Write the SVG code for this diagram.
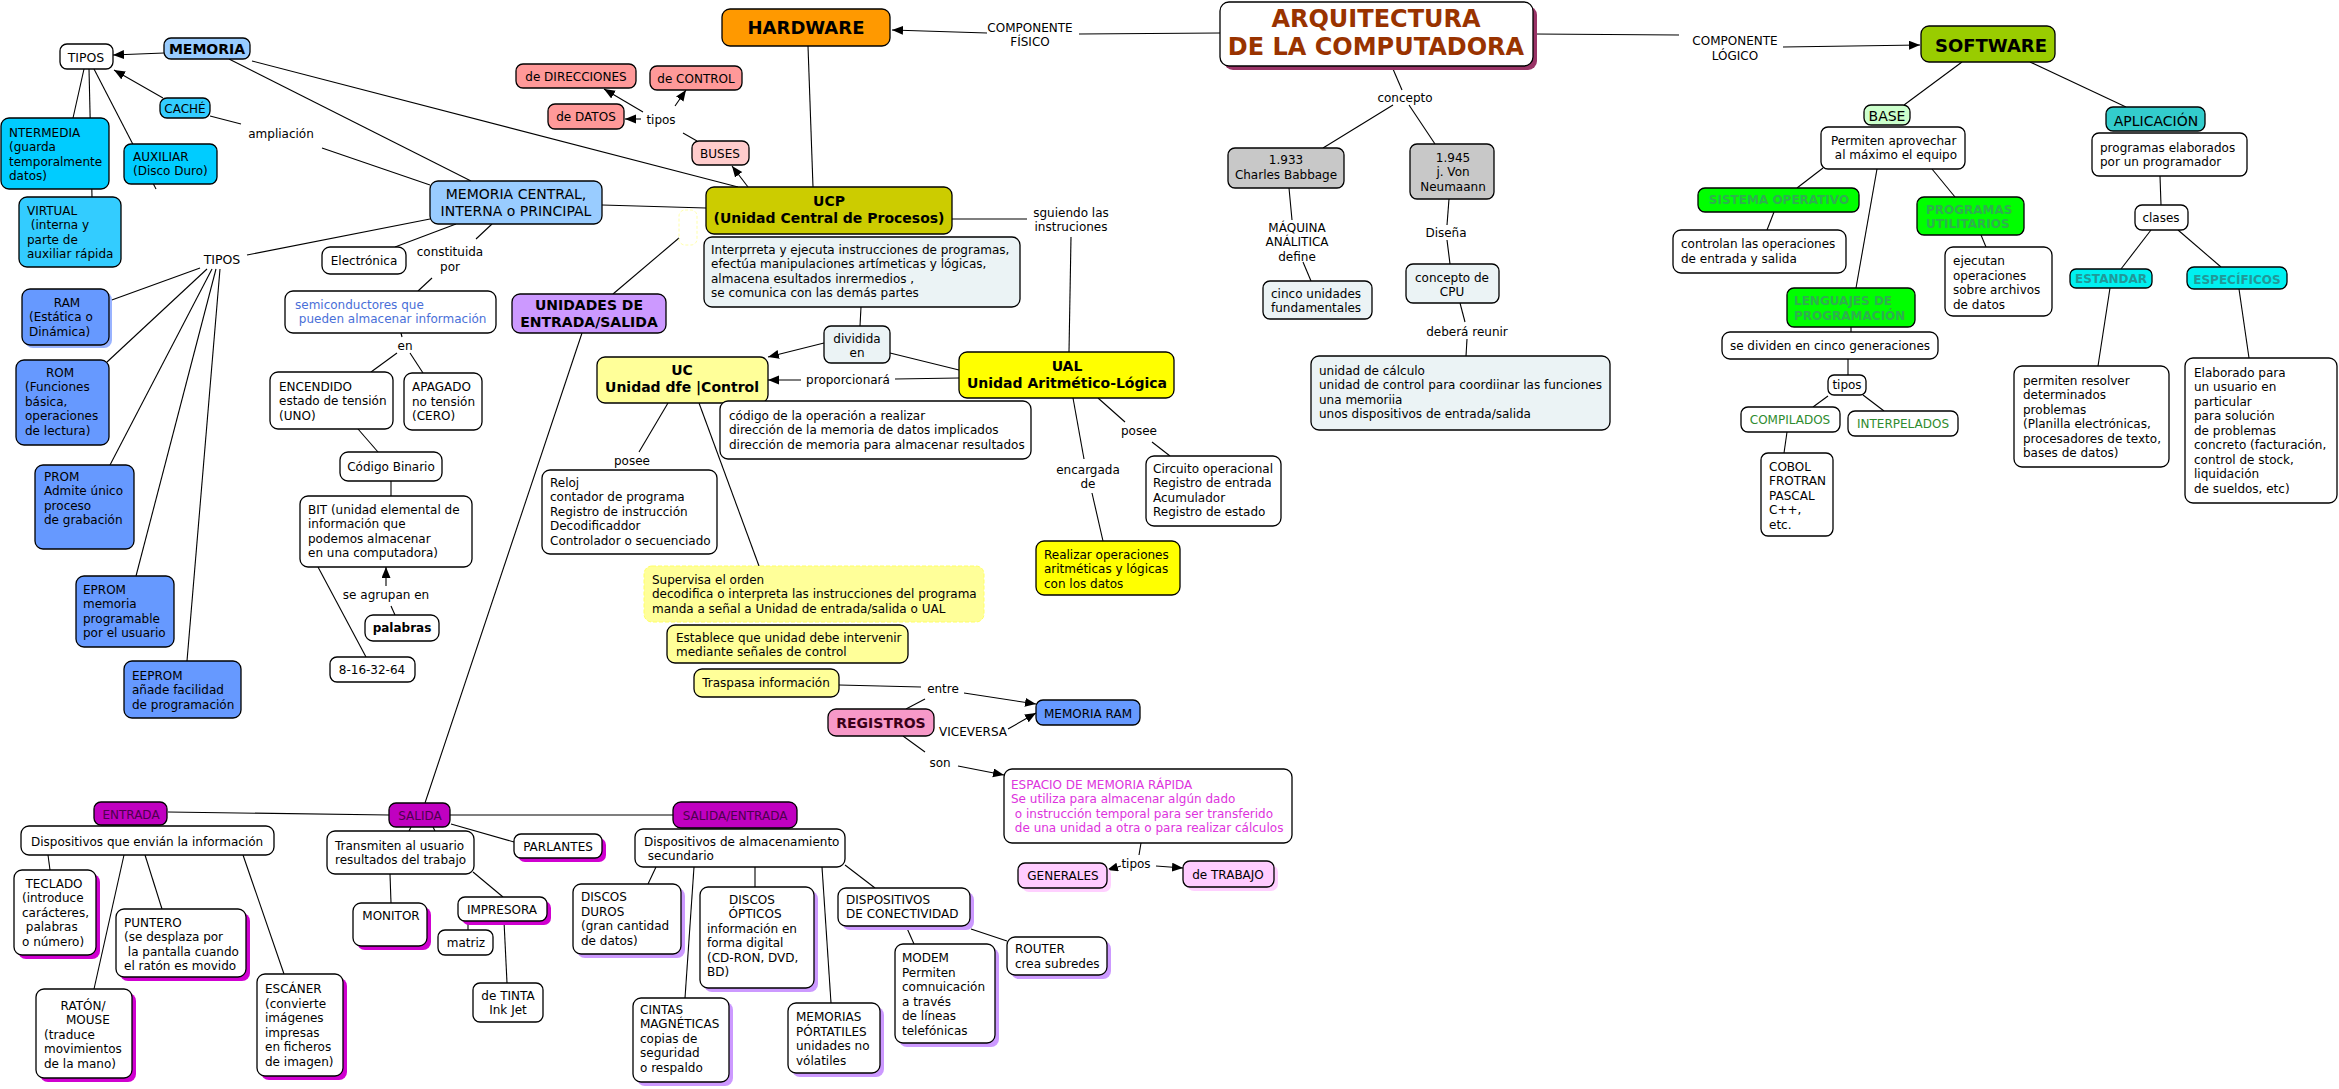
<svg xmlns="http://www.w3.org/2000/svg" width="2339" height="1089" viewBox="0 0 2339 1089">
<style>
.b{stroke:#000;stroke-width:1.3}
.t{font-family:"DejaVu Sans",Verdana,"Liberation Sans",sans-serif;font-size:12px;fill:#000}
.m{text-anchor:middle}
.bd{font-weight:bold}
.f14{font-size:14px}
.c line{stroke:#000;stroke-width:1.1;fill:none}
.a{marker-end:url(#ah)}
.w{fill:#fff}
.g{fill:#EBF3F5}
.shm{fill:#D000D0}
.shl{fill:#CC99FF}
.shp{fill:#FFD0FF}
.shb{fill:#99B3FF}
.mag{fill:#C000C0}
.mt{fill:#4d004d}
.grn{fill:#00FF00}
.gt{fill:#2FAF4F;font-weight:bold}
.cy{fill:#00F0F0}
.ct{fill:#209999;font-weight:bold}
.blu{fill:#6699FF}
.lb{fill:#99CCFF}
.sal{fill:#FF9999}
.ly{fill:#FFFF99}
</style>
<defs>
<marker id="ah" markerUnits="userSpaceOnUse" markerWidth="12" markerHeight="10" refX="11" refY="4.5" orient="auto">
<path d="M0,0 L11,4.5 L0,9 z" fill="#000"/>
</marker>
</defs>
<rect width="2339" height="1089" fill="#fff"/>

<g id="connectors" class="c">
<line x1="1220" y1="33" x2="1079" y2="34"/>
<line class="a" x1="987" y1="33" x2="892" y2="30"/>
<line x1="1534" y1="34" x2="1679" y2="35"/>
<line class="a" x1="1783" y1="47" x2="1920" y2="45"/>
<line x1="1393" y1="69" x2="1402" y2="90"/>
<line x1="1393" y1="105" x2="1323" y2="148"/>
<line x1="1409" y1="105" x2="1435" y2="144"/>
<line x1="1289" y1="188" x2="1292" y2="220"/>
<line x1="1303" y1="262" x2="1311" y2="281"/>
<line x1="1449" y1="199" x2="1447" y2="225"/>
<line x1="1447" y1="240" x2="1450" y2="264"/>
<line x1="1460" y1="303" x2="1465" y2="322"/>
<line x1="1467" y1="339" x2="1466" y2="356"/>
<line x1="1962" y1="62" x2="1904" y2="105"/>
<line x1="2030" y1="62" x2="2126" y2="107"/>
<line x1="1823" y1="168" x2="1797" y2="188"/>
<line x1="1877" y1="169" x2="1856" y2="288"/>
<line x1="1932" y1="169" x2="1955" y2="197"/>
<line x1="1774" y1="212" x2="1767" y2="230"/>
<line x1="1981" y1="235" x2="1986" y2="247"/>
<line x1="1851" y1="327" x2="1851" y2="332"/>
<line x1="1848" y1="359" x2="1848" y2="375"/>
<line x1="1828" y1="396" x2="1813" y2="407"/>
<line x1="1863" y1="395" x2="1884" y2="411"/>
<line x1="1787" y1="432" x2="1784" y2="453"/>
<line x1="2160" y1="176" x2="2161" y2="205"/>
<line x1="2151" y1="230" x2="2121" y2="269"/>
<line x1="2178" y1="230" x2="2221" y2="267"/>
<line x1="2110" y1="288" x2="2098" y2="366"/>
<line x1="2239" y1="289" x2="2249" y2="358"/>
<line x1="808" y1="46" x2="813" y2="187"/>
<line x1="252" y1="61" x2="738" y2="187"/>
<line x1="229" y1="59" x2="471" y2="181"/>
<line x1="602" y1="205" x2="706" y2="208"/>
<line class="a" x1="748" y1="187" x2="732" y2="166"/>
<line x1="697" y1="141" x2="683" y2="133"/>
<line class="a" x1="643" y1="112" x2="604" y2="89"/>
<line class="a" x1="641" y1="119" x2="625" y2="119"/>
<line class="a" x1="675" y1="106" x2="686" y2="90"/>
<line x1="952" y1="219" x2="1027" y2="219"/>
<line x1="1071" y1="237" x2="1069" y2="352"/>
<line x1="861" y1="307" x2="860" y2="326"/>
<line class="a" x1="824" y1="343" x2="768" y2="357"/>
<line x1="890" y1="353" x2="959" y2="370"/>
<line x1="959" y1="378" x2="895" y2="379"/>
<line class="a" x1="801" y1="380" x2="768" y2="380"/>
<line x1="668" y1="403" x2="639" y2="452"/>
<line x1="699" y1="403" x2="759" y2="566"/>
<line x1="1073" y1="398" x2="1084" y2="459"/>
<line x1="1092" y1="493" x2="1103" y2="541"/>
<line x1="1098" y1="398" x2="1125" y2="422"/>
<line x1="1152" y1="442" x2="1170" y2="456"/>
<line x1="839" y1="685" x2="921" y2="687"/>
<line class="a" x1="964" y1="693" x2="1036" y2="704"/>
<line x1="925" y1="699" x2="906" y2="709"/>
<line class="a" x1="1008" y1="729" x2="1036" y2="713"/>
<line x1="903" y1="736" x2="925" y2="752"/>
<line class="a" x1="958" y1="766" x2="1004" y2="775"/>
<line x1="1141" y1="843" x2="1139" y2="855"/>
<line class="a" x1="1121" y1="866" x2="1107" y2="870"/>
<line class="a" x1="1156" y1="866" x2="1183" y2="868"/>
<line class="a" x1="164" y1="53" x2="113" y2="55"/>
<line class="a" x1="163" y1="98" x2="114" y2="70"/>
<line x1="210" y1="116" x2="241" y2="124"/>
<line x1="322" y1="148" x2="430" y2="185"/>
<line x1="84" y1="69" x2="73" y2="118"/>
<line x1="89" y1="69" x2="92" y2="197"/>
<line x1="94" y1="69" x2="156" y2="189"/>
<line x1="430" y1="219" x2="247" y2="255"/>
<line x1="200" y1="268" x2="109" y2="301"/>
<line x1="207" y1="269" x2="107" y2="362"/>
<line x1="212" y1="269" x2="110" y2="465"/>
<line x1="216" y1="269" x2="136" y2="576"/>
<line x1="220" y1="269" x2="187" y2="661"/>
<line x1="456" y1="224" x2="395" y2="247"/>
<line x1="492" y1="224" x2="476" y2="239"/>
<line x1="432" y1="278" x2="418" y2="291"/>
<line x1="401" y1="333" x2="402" y2="337"/>
<line x1="397" y1="353" x2="371" y2="372"/>
<line x1="410" y1="353" x2="423" y2="373"/>
<line x1="358" y1="429" x2="378" y2="452"/>
<line x1="391" y1="481" x2="391" y2="496"/>
<line class="a" x1="386" y1="586" x2="386" y2="567"/>
<line x1="391" y1="606" x2="395" y2="615"/>
<line x1="318" y1="567" x2="366" y2="657"/>
<line x1="582" y1="333" x2="425" y2="803"/>
<line x1="613" y1="294" x2="679" y2="238"/>
<line x1="168" y1="812" x2="389" y2="815"/>
<line x1="450" y1="815" x2="673" y2="815"/>
<line x1="451" y1="824" x2="514" y2="842"/>
<line x1="48" y1="855" x2="50" y2="870"/>
<line x1="124" y1="855" x2="94" y2="989"/>
<line x1="145" y1="855" x2="162" y2="909"/>
<line x1="243" y1="855" x2="284" y2="974"/>
<line x1="411" y1="827" x2="409" y2="831"/>
<line x1="433" y1="827" x2="435" y2="831"/>
<line x1="390" y1="874" x2="391" y2="903"/>
<line x1="473" y1="872" x2="503" y2="897"/>
<line x1="468" y1="921" x2="468" y2="930"/>
<line x1="504" y1="921" x2="507" y2="983"/>
<line x1="656" y1="867" x2="648" y2="884"/>
<line x1="694" y1="867" x2="685" y2="998"/>
<line x1="755" y1="867" x2="755" y2="887"/>
<line x1="822" y1="867" x2="831" y2="1003"/>
<line x1="845" y1="865" x2="875" y2="888"/>
<line x1="906" y1="926" x2="914" y2="944"/>
<line x1="971" y1="929" x2="1007" y2="941"/>
</g>

<g id="n-arq"><rect x="1224" y="6" width="313" height="64" rx="9" fill="#993366"/><rect class="b w" x="1220" y="2" width="313" height="64" rx="9"/><text class="t m bd" style="font-size:24px;fill:#993300"><tspan x="1376" y="27">ARQUITECTURA</tspan><tspan x="1376" y="55">DE LA COMPUTADORA</tspan></text></g>
<g id="n-hardware"><rect class="b" x="722" y="9" width="168" height="37" rx="8" fill="#FF9900"/><text class="t m bd" style="font-size:18px" x="806" y="34">HARDWARE</text></g>
<g id="l-fisico"><text class="t m"><tspan x="1030" y="32">COMPONENTE</tspan><tspan x="1030" y="46">FÍSICO</tspan></text></g>
<g id="l-logico"><text class="t m"><tspan x="1735" y="45">COMPONENTE</tspan><tspan x="1735" y="60">LÓGICO</tspan></text></g>
<g id="n-software"><rect class="b" x="1921" y="26" width="134" height="36" rx="8" fill="#99CC00"/><text class="t m bd" style="font-size:18px" x="1991" y="52">SOFTWARE</text></g>
<g id="n-base"><rect class="b" x="1864" y="105" width="46" height="20" rx="7" fill="#CCFFCC"/><text class="t m f14" x="1887" y="121">BASE</text></g>
<g id="n-permiten"><rect class="b w" x="1821" y="127" width="144" height="42" rx="7"/><text class="t"><tspan x="1831" y="144.5">Permiten aprovechar</tspan><tspan x="1831" y="159"> al máximo el equipo</tspan></text></g>
<g id="n-aplicacion"><rect class="b" x="2106" y="107" width="99" height="24" rx="7" fill="#33CCCC"/><text class="t m f14" x="2156" y="126">APLICACIÓN</text></g>
<g id="n-progelab"><rect class="b w" x="2092" y="133" width="155" height="43" rx="7"/><text class="t"><tspan x="2100" y="151.5">programas elaborados</tspan><tspan x="2100" y="166">por un programador</tspan></text></g>
<g id="n-clases"><rect class="b w" x="2135" y="205" width="53" height="25" rx="7"/><text class="t m" x="2161" y="222">clases</text></g>
<g id="n-estandar"><rect class="b cy" x="2070" y="269" width="82" height="19" rx="6"/><text class="t m ct" x="2111" y="282.5">ESTANDAR</text></g>
<g id="n-especificos"><rect class="b cy" x="2187" y="267" width="100" height="22" rx="7"/><text class="t m ct" x="2237" y="284">ESPECÍFICOS</text></g>
<g id="n-resolver"><rect class="b w" x="2014" y="366" width="155" height="101" rx="8"/><text class="t"><tspan x="2023" y="384.5">permiten resolver</tspan><tspan x="2023" y="399">determinados</tspan><tspan x="2023" y="413.5">problemas</tspan><tspan x="2023" y="428">(Planilla electrónicas,</tspan><tspan x="2023" y="442.5">procesadores de texto,</tspan><tspan x="2023" y="457">bases de datos)</tspan></text></g>
<g id="n-elaborado"><rect class="b w" x="2185" y="358" width="152" height="145" rx="8"/><text class="t"><tspan x="2194" y="376.5">Elaborado para</tspan><tspan x="2194" y="391">un usuario en</tspan><tspan x="2194" y="405.5">particular</tspan><tspan x="2194" y="420">para solución</tspan><tspan x="2194" y="434.5">de problemas</tspan><tspan x="2194" y="449">concreto (facturación,</tspan><tspan x="2194" y="463.5">control de stock,</tspan><tspan x="2194" y="478">liquidación</tspan><tspan x="2194" y="492.5">de sueldos, etc)</tspan></text></g>
<g id="n-so"><rect class="b grn" x="1698" y="188" width="161" height="24" rx="7"/><text class="t m gt" x="1779" y="204">SISTEMA OPERATIVO</text></g>
<g id="n-controlan"><rect class="b w" x="1673" y="230" width="173" height="43" rx="8"/><text class="t"><tspan x="1681" y="248">controlan las operaciones</tspan><tspan x="1681" y="262.5">de entrada y salida</tspan></text></g>
<g id="n-utilitarios"><rect class="b grn" x="1917" y="197" width="107" height="38" rx="7"/><text class="t gt"><tspan x="1926" y="213.5">PROGRAMAS</tspan><tspan x="1926" y="227.5">UTILITARIOS</tspan></text></g>
<g id="n-ejecutan"><rect class="b w" x="1945" y="247" width="107" height="69" rx="8"/><text class="t"><tspan x="1953" y="265">ejecutan</tspan><tspan x="1953" y="279.5">operaciones</tspan><tspan x="1953" y="294">sobre archivos</tspan><tspan x="1953" y="308.5">de datos</tspan></text></g>
<g id="n-lenguajes"><rect class="b grn" x="1787" y="288" width="128" height="39" rx="7"/><text class="t gt"><tspan x="1794" y="305">LENGUAJES DE</tspan><tspan x="1794" y="319.5">PROGRAMACIÓN</tspan></text></g>
<g id="n-dividen"><rect class="b w" x="1722" y="332" width="216" height="27" rx="8"/><text class="t m" x="1830" y="349.5">se dividen en cinco generaciones</text></g>
<g id="n-tiposleng"><rect class="b w" x="1828" y="375" width="38" height="20" rx="6"/><text class="t m" x="1847" y="389">tipos</text></g>
<g id="n-compilados"><rect class="b w" x="1741" y="407" width="99" height="25" rx="7"/><text class="t m" style="fill:#2E8B2E" x="1790" y="423.5">COMPILADOS</text></g>
<g id="n-interpelados"><rect class="b w" x="1848" y="411" width="110" height="25" rx="7"/><text class="t m" style="fill:#2E8B2E" x="1903" y="427.5">INTERPELADOS</text></g>
<g id="n-cobol"><rect class="b w" x="1761" y="453" width="72" height="83" rx="7"/><text class="t"><tspan x="1769" y="470.5">COBOL</tspan><tspan x="1769" y="485">FROTRAN</tspan><tspan x="1769" y="499.5">PASCAL</tspan><tspan x="1769" y="514">C++,</tspan><tspan x="1769" y="528.5">etc.</tspan></text></g>
<g id="l-concepto"><text class="t m" x="1405" y="101.5">concepto</text></g>
<g id="n-1933"><rect class="b" x="1228" y="148" width="116" height="40" rx="7" fill="#C8C8C8"/><text class="t m"><tspan x="1286" y="164">1.933</tspan><tspan x="1286" y="178.5">Charles Babbage</tspan></text></g>
<g id="n-1945"><rect class="b" x="1410" y="144" width="84" height="55" rx="7" fill="#C8C8C8"/><text class="t m"><tspan x="1453" y="161.5">1.945</tspan><tspan x="1453" y="176">j. Von</tspan><tspan x="1453" y="190.5">Neumaann</tspan></text></g>
<g id="l-maquina"><text class="t m"><tspan x="1297" y="231.5">MÁQUINA</tspan><tspan x="1297" y="246">ANÁLITICA</tspan><tspan x="1297" y="260.5">define</tspan></text></g>
<g id="n-cinco"><rect class="b g" x="1263" y="281" width="109" height="38" rx="7"/><text class="t"><tspan x="1271" y="297.5">cinco unidades</tspan><tspan x="1271" y="312">fundamentales</tspan></text></g>
<g id="l-disena"><text class="t m" x="1446" y="236.5">Diseña</text></g>
<g id="n-cpu"><rect class="b g" x="1406" y="264" width="93" height="39" rx="7"/><text class="t m"><tspan x="1452" y="281.5">concepto de</tspan><tspan x="1452" y="296">CPU</tspan></text></g>
<g id="l-reunir"><text class="t m" x="1467" y="335.5">deberá reunir</text></g>
<g id="n-calculo"><rect class="b g" x="1311" y="356" width="299" height="74" rx="8"/><text class="t"><tspan x="1319" y="374.5">unidad de cálculo</tspan><tspan x="1319" y="389">unidad de control para coordiinar las funciones</tspan><tspan x="1319" y="403.5">una memoriia</tspan><tspan x="1319" y="418">unos dispositivos de entrada/salida</tspan></text></g>
<g id="n-ucp"><rect class="b" x="706" y="187" width="246" height="47" rx="8" fill="#CCCC00"/><text class="t m bd f14"><tspan x="829" y="206">UCP</tspan><tspan x="829" y="223">(Unidad Central de Procesos)</tspan></text></g>
<g id="n-faint"><rect x="679" y="210" width="18" height="35" rx="6" fill="none" stroke="#FFFFAA" stroke-dasharray="3,2"/></g>
<g id="n-interpreta"><rect class="b g" x="704" y="237" width="316" height="70" rx="8"/><text class="t"><tspan x="711" y="253.5">Interprreta y ejecuta instrucciones de programas,</tspan><tspan x="711" y="268">efectúa manipulaciones artímeticas y lógicas,</tspan><tspan x="711" y="282.5">almacena esultados inrermedios ,</tspan><tspan x="711" y="297">se comunica con las demás partes</tspan></text></g>
<g id="l-sguiendo"><text class="t m"><tspan x="1071" y="216.5">sguiendo las</tspan><tspan x="1071" y="231">instruciones</tspan></text></g>
<g id="n-dividida"><rect class="b g" x="824" y="326" width="66" height="37" rx="7"/><text class="t m"><tspan x="857" y="342.5">dividida</tspan><tspan x="857" y="357">en</tspan></text></g>
<g id="n-uc"><rect class="b ly" x="597" y="357" width="171" height="46" rx="8"/><text class="t m bd f14"><tspan x="682" y="375">UC</tspan><tspan x="682" y="392">Unidad dfe |Control</tspan></text></g>
<g id="n-ual"><rect class="b" x="959" y="352" width="215" height="46" rx="8" fill="#FFFF00"/><text class="t m bd f14"><tspan x="1067" y="371">UAL</tspan><tspan x="1067" y="388">Unidad Aritmético-Lógica</tspan></text></g>
<g id="l-proporcionara"><text class="t m" x="848" y="383.5">proporcionará</text></g>
<g id="n-codigo"><rect class="b w" x="720" y="401" width="311" height="58" rx="8"/><text class="t"><tspan x="729" y="419.5">código de la operación a realizar</tspan><tspan x="729" y="434">dirección de la memoria de datos implicados</tspan><tspan x="729" y="448.5">dirección de memoria para almacenar resultados</tspan></text></g>
<g id="l-poseeuc"><text class="t m" x="632" y="464.5">posee</text></g>
<g id="n-reloj"><rect class="b w" x="542" y="470" width="175" height="84" rx="8"/><text class="t"><tspan x="550" y="486.5">Reloj</tspan><tspan x="550" y="501">contador de programa</tspan><tspan x="550" y="515.5">Registro de instrucción</tspan><tspan x="550" y="530">Decodificaddor</tspan><tspan x="550" y="544.5">Controlador o secuenciado</tspan></text></g>
<g id="n-supervisa"><rect class="ly" x="644" y="566" width="340" height="56" rx="8" stroke="#FFFF66" stroke-dasharray="4,2"/><text class="t"><tspan x="652" y="583.5">Supervisa el orden</tspan><tspan x="652" y="598">decodifica o interpreta las instrucciones del programa</tspan><tspan x="652" y="612.5">manda a señal a Unidad de entrada/salida o UAL</tspan></text></g>
<g id="n-establece"><rect class="b ly" x="667" y="625" width="241" height="38" rx="8"/><text class="t"><tspan x="676" y="641.5">Establece que unidad debe intervenir</tspan><tspan x="676" y="656">mediante señales de control</tspan></text></g>
<g id="n-traspasa"><rect class="b ly" x="694" y="669" width="145" height="28" rx="8"/><text class="t m" x="766" y="687">Traspasa información</text></g>
<g id="l-entre"><text class="t m" x="943" y="692.5">entre</text></g>
<g id="n-memram"><rect class="b blu" x="1036" y="700" width="104" height="25" rx="7"/><text class="t m" x="1088" y="717.5">MEMORIA RAM</text></g>
<g id="n-registros"><rect class="b" x="828" y="709" width="106" height="27" rx="8" fill="#F799C8"/><text class="t m bd f14" style="fill:#3a0018" x="881" y="728">REGISTROS</text></g>
<g id="l-viceversa"><text class="t m" x="973" y="735.5">VICEVERSA</text></g>
<g id="l-son"><text class="t m" x="940" y="766.5">son</text></g>
<g id="n-espacio"><rect class="b w" x="1004" y="769" width="288" height="74" rx="8"/><text class="t" style="fill:#DD33DD"><tspan x="1011" y="788.5">ESPACIO DE MEMORIA RÁPIDA</tspan><tspan x="1011" y="803">Se utiliza para almacenar algún dado</tspan><tspan x="1011" y="817.5"> o instrucción temporal para ser transferido</tspan><tspan x="1011" y="832"> de una unidad a otra o para realizar cálculos</tspan></text></g>
<g id="l-tiposreg"><text class="t m" x="1136" y="867.5">tipos</text></g>
<g id="n-generales"><rect class="shp" x="1022" y="867" width="89" height="25" rx="7"/><rect class="b" x="1018" y="863" width="89" height="25" rx="7" fill="#FFCCFF"/><text class="t m" x="1063" y="880">GENERALES</text></g>
<g id="n-trabajo"><rect class="shp" x="1187" y="865" width="91" height="26" rx="7"/><rect class="b" x="1183" y="861" width="91" height="26" rx="7" fill="#FFCCFF"/><text class="t m" x="1228" y="878.5">de TRABAJO</text></g>
<g id="l-encargada"><text class="t m"><tspan x="1088" y="473.5">encargada</tspan><tspan x="1088" y="488">de</tspan></text></g>
<g id="l-poseeual"><text class="t m" x="1139" y="434.5">posee</text></g>
<g id="n-circuito"><rect class="b w" x="1146" y="456" width="135" height="70" rx="8"/><text class="t"><tspan x="1153" y="472.5">Circuito operacional</tspan><tspan x="1153" y="487">Registro de entrada</tspan><tspan x="1153" y="501.5">Acumulador</tspan><tspan x="1153" y="516">Registro de estado</tspan></text></g>
<g id="n-realizar"><rect class="b" x="1036" y="541" width="144" height="54" rx="8" fill="#FFFF00"/><text class="t"><tspan x="1044" y="558.5">Realizar operaciones</tspan><tspan x="1044" y="573">aritméticas y lógicas</tspan><tspan x="1044" y="587.5">con los datos</tspan></text></g>
<g id="n-direcciones"><rect class="b sal" x="516" y="64" width="120" height="24" rx="7"/><text class="t m" x="576" y="80.5">de DIRECCIONES</text></g>
<g id="n-datos"><rect class="b sal" x="548" y="104" width="76" height="25" rx="7"/><text class="t m" x="586" y="121">de DATOS</text></g>
<g id="n-control"><rect class="b sal" x="650" y="66" width="92" height="24" rx="7"/><text class="t m" x="696" y="82.5">de CONTROL</text></g>
<g id="l-tiposbus"><text class="t m" x="661" y="123.5">tipos</text></g>
<g id="n-buses"><rect class="b" x="692" y="141" width="57" height="24" rx="7" fill="#FFCCCC"/><text class="t m" x="720" y="157.5">BUSES</text></g>

<g id="n-memoria"><rect class="b lb" x="164" y="38" width="86" height="21" rx="7"/><text class="t m bd f14" x="207" y="54">MEMORIA</text></g>
<g id="n-tipos1"><rect class="b w" x="60" y="44" width="53" height="25" rx="7"/><text class="t m" style="font-size:12.5px" x="86" y="61.5">TIPOS</text></g>
<g id="n-cache"><rect class="b" x="160" y="98" width="50" height="20" rx="7" fill="#33CCFF"/><text class="t m" x="185" y="113">CACHÉ</text></g>
<g id="l-ampliacion"><text class="t m" x="281" y="137.5">ampliación</text></g>
<g id="n-intermedia"><rect class="b" x="1" y="118" width="108" height="71" rx="8" fill="#00CCFF"/><text class="t"><tspan x="9" y="136.5">NTERMEDIA</tspan><tspan x="9" y="151">(guarda</tspan><tspan x="9" y="165.5">temporalmente</tspan><tspan x="9" y="180">datos)</tspan></text></g>
<g id="n-auxiliar"><rect class="b" x="124" y="144" width="93" height="40" rx="7" fill="#00CCFF"/><text class="t"><tspan x="133" y="160.5">AUXILIAR</tspan><tspan x="133" y="175">(Disco Duro)</tspan></text></g>
<g id="n-virtual"><rect class="b" x="19" y="197" width="102" height="70" rx="8" fill="#33CCFF"/><text class="t"><tspan x="27" y="214.5">VIRTUAL</tspan><tspan x="27" y="229"> (interna y</tspan><tspan x="27" y="243.5">parte de</tspan><tspan x="27" y="258">auxiliar rápida</tspan></text></g>
<g id="n-memcentral"><rect class="b lb" x="430" y="181" width="172" height="43" rx="8"/><text class="t m f14"><tspan x="516" y="198.5">MEMORIA CENTRAL,</tspan><tspan x="516" y="216">INTERNA o PRINCIPAL</tspan></text></g>
<g id="l-tipos2"><text class="t m" style="font-size:12.5px" x="222" y="263.5">TIPOS</text></g>
<g id="n-electronica"><rect class="b w" x="322" y="247" width="84" height="27" rx="8"/><text class="t m" x="364" y="265">Electrónica</text></g>
<g id="l-constituida"><text class="t m"><tspan x="450" y="255.5">constituida</tspan><tspan x="450" y="270.5">por</tspan></text></g>
<g id="n-semi"><rect class="b w" x="285" y="291" width="211" height="42" rx="8"/><text class="t" style="fill:#4a6fd8"><tspan x="295" y="308.5">semiconductores que</tspan><tspan x="295" y="323"> pueden almacenar información</tspan></text></g>
<g id="n-unidades"><rect class="b" x="512" y="294" width="154" height="39" rx="8" fill="#CC99FF"/><text class="t m bd f14"><tspan x="589" y="309.5">UNIDADES DE</tspan><tspan x="589" y="327">ENTRADA/SALIDA</tspan></text></g>
<g id="l-en"><text class="t m" x="405" y="349.5">en</text></g>
<g id="n-encendido"><rect class="b w" x="270" y="372" width="123" height="57" rx="8"/><text class="t"><tspan x="279" y="390.5">ENCENDIDO</tspan><tspan x="279" y="405">estado de tensión</tspan><tspan x="279" y="419.5">(UNO)</tspan></text></g>
<g id="n-apagado"><rect class="b w" x="404" y="373" width="78" height="57" rx="8"/><text class="t"><tspan x="412" y="391">APAGADO</tspan><tspan x="412" y="405.5">no tensión</tspan><tspan x="412" y="420">(CERO)</tspan></text></g>
<g id="n-binario"><rect class="b w" x="340" y="452" width="102" height="29" rx="8"/><text class="t m" x="391" y="471">Código Binario</text></g>
<g id="n-bit"><rect class="b w" x="300" y="496" width="172" height="71" rx="8"/><text class="t"><tspan x="308" y="513.5">BIT (unidad elemental de</tspan><tspan x="308" y="528">información que</tspan><tspan x="308" y="542.5">podemos almacenar</tspan><tspan x="308" y="557">en una computadora)</tspan></text></g>
<g id="l-agrupan"><text class="t m" x="386" y="598.5">se agrupan en</text></g>
<g id="n-palabras"><rect class="b w" x="365" y="615" width="74" height="26" rx="8"/><text class="t m bd" x="402" y="632">palabras</text></g>
<g id="n-bits"><rect class="b w" x="330" y="657" width="85" height="25" rx="7"/><text class="t m" x="372" y="674">8-16-32-64</text></g>
<g id="n-ram"><rect class="shb" x="25" y="292" width="87" height="56" rx="8"/><rect class="b blu" x="22" y="289" width="87" height="56" rx="8"/><text class="t"><tspan class="m" x="67" y="306.5">RAM</tspan><tspan x="29" y="321">(Estática o</tspan><tspan x="29" y="335.5">Dinámica)</tspan></text></g>
<g id="n-rom"><rect class="b blu" x="16" y="360" width="93" height="85" rx="8"/><text class="t"><tspan class="m" x="60" y="376.5">ROM</tspan><tspan x="25" y="391">(Funciones</tspan><tspan x="25" y="405.5">básica,</tspan><tspan x="25" y="420">operaciones</tspan><tspan x="25" y="434.5">de lectura)</tspan></text></g>
<g id="n-prom"><rect class="b blu" x="35" y="465" width="99" height="84" rx="8"/><text class="t"><tspan x="44" y="480.5">PROM</tspan><tspan x="44" y="495">Admite único</tspan><tspan x="44" y="509.5">proceso</tspan><tspan x="44" y="524">de grabación</tspan></text></g>
<g id="n-eprom"><rect class="b blu" x="76" y="576" width="98" height="71" rx="8"/><text class="t"><tspan x="83" y="593.5">EPROM</tspan><tspan x="83" y="608">memoria</tspan><tspan x="83" y="622.5">programable</tspan><tspan x="83" y="637">por el usuario</tspan></text></g>
<g id="n-eeprom"><rect class="b blu" x="124" y="661" width="117" height="57" rx="8"/><text class="t"><tspan x="132" y="679.5">EEPROM</tspan><tspan x="132" y="694">añade facilidad</tspan><tspan x="132" y="708.5">de programación</tspan></text></g>

<g id="n-entrada"><rect class="b mag" x="94" y="802" width="73" height="23" rx="7"/><text class="t m mt" x="131" y="818.5">ENTRADA</text></g>
<g id="n-salida"><rect class="b mag" x="389" y="803" width="61" height="24" rx="7"/><text class="t m mt" x="420" y="819.5">SALIDA</text></g>
<g id="n-salent"><rect class="b mag" x="673" y="802" width="124" height="26" rx="8"/><text class="t m mt" x="735" y="819.5">SALIDA/ENTRADA</text></g>
<g id="n-envian"><rect class="b w" x="21" y="826" width="253" height="29" rx="8"/><text class="t" x="31" y="845.5">Dispositivos que envián la información</text></g>
<g id="n-teclado"><rect class="shm" x="18" y="874" width="82" height="85" rx="8"/><rect class="b w" x="14" y="870" width="82" height="85" rx="8"/><text class="t"><tspan class="m" x="54" y="887.5">TECLADO</tspan><tspan x="22" y="902">(introduce</tspan><tspan x="22" y="916.5">carácteres,</tspan><tspan x="22" y="931"> palabras</tspan><tspan x="22" y="945.5">o número)</tspan></text></g>
<g id="n-puntero"><rect class="shm" x="120" y="913" width="130" height="68" rx="8"/><rect class="b w" x="116" y="909" width="130" height="68" rx="8"/><text class="t"><tspan x="124" y="926.5">PUNTERO</tspan><tspan x="124" y="941">(se desplaza por</tspan><tspan x="124" y="955.5"> la pantalla cuando</tspan><tspan x="124" y="970">el ratón es movido</tspan></text></g>
<g id="n-raton"><rect class="shm" x="40" y="993" width="96" height="89" rx="8"/><rect class="b w" x="36" y="989" width="96" height="89" rx="8"/><text class="t"><tspan class="m" x="83" y="1009.5">RATÓN/</tspan><tspan class="m" x="86" y="1024"> MOUSE</tspan><tspan x="44" y="1038.5">(traduce</tspan><tspan x="44" y="1053">movimientos</tspan><tspan x="44" y="1067.5">de la mano)</tspan></text></g>
<g id="n-escaner"><rect class="shm" x="261" y="978" width="86" height="102" rx="8"/><rect class="b w" x="257" y="974" width="86" height="102" rx="8"/><text class="t"><tspan x="265" y="993">ESCÁNER</tspan><tspan x="265" y="1007.5">(convierte</tspan><tspan x="265" y="1022">imágenes</tspan><tspan x="265" y="1036.5">impresas</tspan><tspan x="265" y="1051">en ficheros</tspan><tspan x="265" y="1065.5">de imagen)</tspan></text></g>
<g id="n-transmiten"><rect class="b w" x="327" y="831" width="147" height="43" rx="8"/><text class="t"><tspan x="335" y="849.5">Transmiten al usuario</tspan><tspan x="335" y="864">resultados del trabajo</tspan></text></g>
<g id="n-monitor"><rect class="shm" x="357" y="907" width="74" height="43" rx="8"/><rect class="b w" x="353" y="903" width="74" height="43" rx="8"/><text class="t m" x="391" y="919.5">MONITOR</text></g>
<g id="n-impresora"><rect class="shm" x="462" y="901" width="89" height="24" rx="7"/><rect class="b w" x="458" y="897" width="89" height="24" rx="7"/><text class="t m" x="502" y="913.5">IMPRESORA</text></g>
<g id="n-matriz"><rect class="b w" x="438" y="930" width="55" height="25" rx="7"/><text class="t m" x="466" y="947">matriz</text></g>
<g id="n-tinta"><rect class="b w" x="473" y="983" width="70" height="39" rx="7"/><text class="t m"><tspan x="508" y="999.5">de TINTA</tspan><tspan x="508" y="1014">Ink Jet</tspan></text></g>
<g id="n-parlantes"><rect class="shm" x="518" y="838" width="88" height="24" rx="7"/><rect class="b w" x="514" y="834" width="88" height="24" rx="7"/><text class="t m" x="558" y="850.5">PARLANTES</text></g>
<g id="n-almac"><rect class="b w" x="635" y="829" width="210" height="38" rx="8"/><text class="t"><tspan x="644" y="845.5">Dispositivos de almacenamiento</tspan><tspan x="644" y="860"> secundario</tspan></text></g>
<g id="n-duros"><rect class="shl" x="577" y="888" width="108" height="70" rx="8"/><rect class="b w" x="573" y="884" width="108" height="70" rx="8"/><text class="t"><tspan x="581" y="901">DISCOS</tspan><tspan x="581" y="915.5">DUROS</tspan><tspan x="581" y="930">(gran cantidad</tspan><tspan x="581" y="944.5">de datos)</tspan></text></g>
<g id="n-opticos"><rect class="shl" x="704" y="891" width="114" height="101" rx="8"/><rect class="b w" x="700" y="887" width="114" height="101" rx="8"/><text class="t"><tspan class="m" x="752" y="903.5">DISCOS</tspan><tspan class="m" x="755" y="918">ÓPTICOS</tspan><tspan x="707" y="932.5">información en</tspan><tspan x="707" y="947">forma digital</tspan><tspan x="707" y="961.5">(CD-RON, DVD,</tspan><tspan x="707" y="976">BD)</tspan></text></g>
<g id="n-cintas"><rect class="shl" x="637" y="1002" width="96" height="84" rx="8"/><rect class="b w" x="633" y="998" width="96" height="84" rx="8"/><text class="t"><tspan x="640" y="1013.5">CINTAS</tspan><tspan x="640" y="1028">MAGNÉTICAS</tspan><tspan x="640" y="1042.5">copias de</tspan><tspan x="640" y="1057">seguridad</tspan><tspan x="640" y="1071.5">o respaldo</tspan></text></g>
<g id="n-memorias"><rect class="shl" x="792" y="1007" width="92" height="70" rx="8"/><rect class="b w" x="788" y="1003" width="92" height="70" rx="8"/><text class="t"><tspan x="796" y="1021">MEMORIAS</tspan><tspan x="796" y="1035.5">PÓRTATILES</tspan><tspan x="796" y="1050">unidades no</tspan><tspan x="796" y="1064.5">vólatiles</tspan></text></g>
<g id="n-conect"><rect class="shl" x="842" y="892" width="132" height="38" rx="8"/><rect class="b w" x="838" y="888" width="132" height="38" rx="8"/><text class="t"><tspan x="846" y="903.5">DISPOSITIVOS</tspan><tspan x="846" y="918">DE CONECTIVIDAD</tspan></text></g>
<g id="n-modem"><rect class="shl" x="899" y="948" width="100" height="99" rx="8"/><rect class="b w" x="895" y="944" width="100" height="99" rx="8"/><text class="t"><tspan x="902" y="962">MODEM</tspan><tspan x="902" y="976.5">Permiten</tspan><tspan x="902" y="991">comnuicación</tspan><tspan x="902" y="1005.5">a través</tspan><tspan x="902" y="1020">de líneas</tspan><tspan x="902" y="1034.5">telefónicas</tspan></text></g>
<g id="n-router"><rect class="shl" x="1011" y="941" width="100" height="38" rx="8"/><rect class="b w" x="1007" y="937" width="100" height="38" rx="8"/><text class="t"><tspan x="1015" y="952.5">ROUTER</tspan><tspan x="1015" y="967.5">crea subredes</tspan></text></g>
</svg>
